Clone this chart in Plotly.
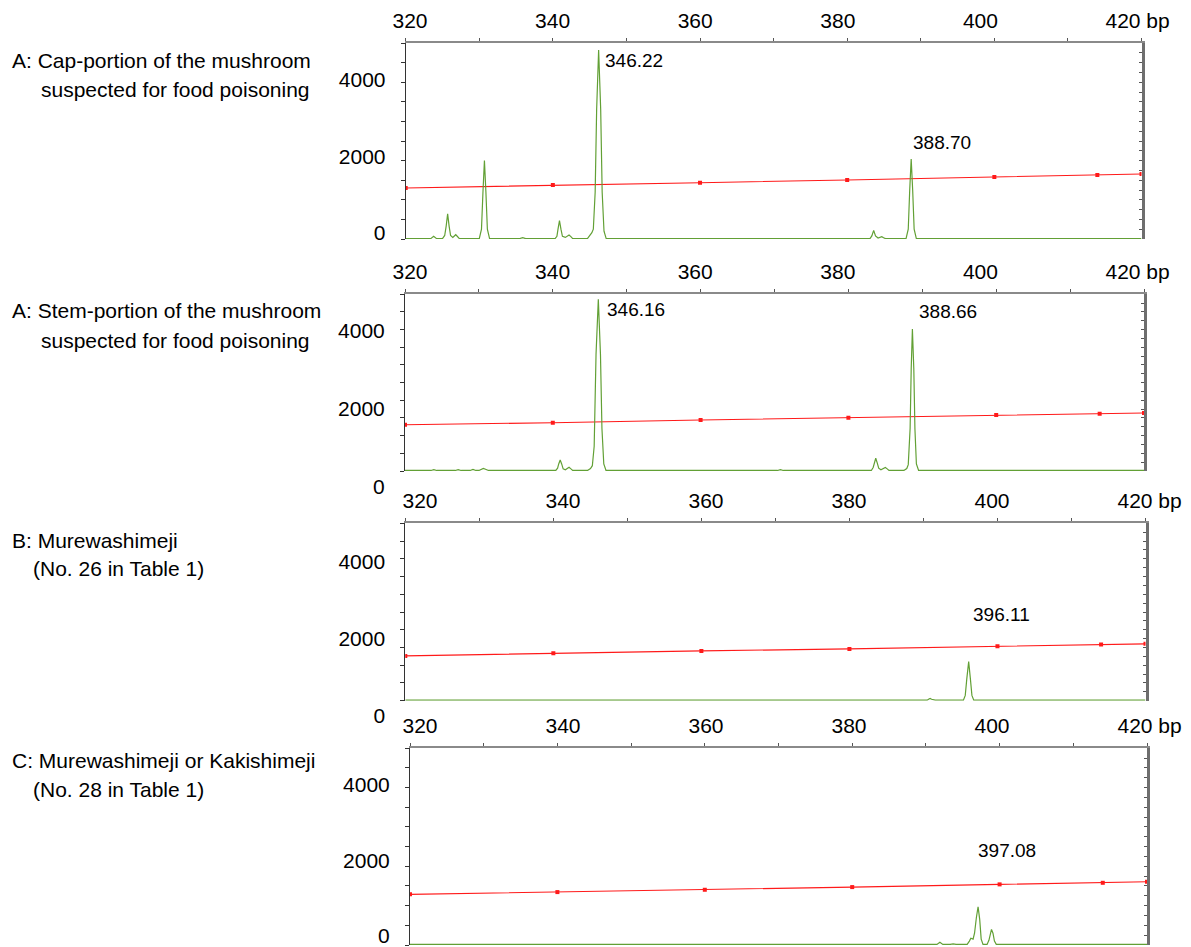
import plotly.graph_objects as go

# page geometry: the html body has an 8px margin, so the figure is placed at (8, 8)
OFF = 8
WF, HF = 1191 - OFF, 947 - OFF

# ---------------- data ----------------
# internal size-standard (red) points
size_std_bp = [320, 340, 360, 380, 400, 414, 420]
cap_std = [1301, 1378, 1436, 1505, 1582, 1633, 1658]
stem_std = [1310, 1366, 1443, 1508, 1584, 1621, 1641]
mur_std = [1263, 1339, 1404, 1460, 1537, 1582, 1602]
kak_std = [1287, 1345, 1404, 1472, 1541, 1581, 1607]

# sample traces (green)
cap_bp = [320, 323.4, 323.8, 324.2,
          325.0, 325.3, 325.5, 325.7, 325.9, 326.1, 326.4, 326.6, 326.8, 327.0, 327.3,
          330.0, 330.3, 330.5, 330.7, 330.9, 331.1, 331.4,
          335.5, 335.9, 336.3,
          340.3, 340.55, 340.7, 340.9, 341.1, 341.3, 341.7, 341.95, 342.2, 342.45, 342.7,
          344.7, 345.1, 345.3, 345.5, 345.75, 345.95, 346.22, 346.5, 346.7, 346.95, 347.25,
          383.1, 383.35, 383.6, 383.85, 384.2, 384.45, 384.7, 384.95, 385.2,
          388.0, 388.3, 388.5, 388.7, 388.9, 389.1, 389.4,
          420]
cap_rfu = [10, 10, 70, 10,
           10, 90, 330, 640, 330, 90, 40, 80, 110, 70, 10,
           10, 250, 1200, 2000, 1200, 250, 10,
           10, 35, 10,
           10, 70, 250, 470, 250, 70, 40, 80, 100, 60, 10,
           10, 120, 160, 250, 1200, 3300, 4820, 3300, 1200, 200, 10,
           10, 80, 220, 80, 25, 50, 60, 30, 10,
           10, 250, 1250, 2040, 1250, 250, 10,
           10]

stem_bp = [320, 323.5, 323.9, 324.3,
           326.8, 327.2, 327.6,
           328.8, 329.2, 329.6,
           330.0, 330.3, 330.6, 330.9, 331.3,
           340.4, 340.65, 340.8, 341.0, 341.2, 341.4, 341.7, 341.95, 342.2, 342.45, 342.7,
           344.7, 345.1, 345.35, 345.6, 345.85, 346.16, 346.45, 346.65, 346.9, 347.2,
           370.4, 370.8, 371.2,
           383.1, 383.35, 383.5, 383.7, 383.9, 384.1, 384.4, 384.7, 385.0, 385.25, 385.5,
           387.5, 387.9, 388.1, 388.35, 388.5, 388.66, 388.85, 389.0, 389.2, 389.5,
           420]
stem_rfu = [15, 15, 40, 15,
            15, 40, 15,
            15, 45, 15,
            15, 50, 75, 50, 15,
            15, 80, 200, 310, 200, 60, 35, 80, 105, 60, 15,
            15, 70, 150, 700, 3300, 4860, 3300, 1200, 200, 15,
            15, 40, 15,
            15, 100, 230, 360, 230, 80, 35, 80, 100, 60, 15,
            15, 70, 180, 1200, 2900, 4020, 2900, 1200, 200, 15,
            15]

mur_bp = [320, 390.5, 390.75, 390.9, 391.1, 391.3, 391.6,
          395.4, 395.65, 395.85, 396.11, 396.35, 396.55, 396.8, 420]
mur_rfu = [15, 15, 50, 65, 40, 25, 15,
           15, 150, 600, 1100, 600, 150, 15, 15]

kak_bp = [320, 391.5, 391.9, 392.3,
          393.3, 393.7, 394.1,
          395.6, 395.9, 396.1, 396.4, 396.6, 396.85, 397.08, 397.3, 397.5, 397.75,
          398.3, 398.55, 398.75, 398.9, 399.1, 399.3, 399.55,
          420]
kak_rfu = [15, 15, 70, 15,
           15, 30, 15,
           15, 100, 170, 150, 300, 700, 972, 650, 150, 15,
           15, 120, 300, 398, 300, 100, 15,
           15]

# called peak sizes and heights of their labels
cap_called = [346.22, 388.70]
cap_label_rfu = [4566, 2474]
stem_called = [346.16, 388.66]
stem_label_rfu = [4583, 4506]
mur_called = [396.11]
mur_label_rfu = [2421]
kak_called = [397.08]
kak_label_rfu = [2411]

x_tick_vals = [320, 340, 360, 380, 400, 420]
x_tick_text = ["320", "340", "360", "380", "400",
               '<span style="color:rgba(0,0,0,0)">\u00a0bp</span>420\u00a0bp']
y_tick_vals = [0, 2000, 4000]

titles = [
    ("A: Cap-portion of the mushroom", "suspected for food poisoning"),
    ("A: Stem-portion of the mushroom", "suspected for food poisoning"),
    ("B: Murewashimeji", "(No. 26 in Table 1)"),
    ("C: Murewashimeji or Kakishimeji", "(No. 28 in Table 1)"),
]

# ---------------- geometry (page pixels) ----------------
geom = [
    dict(x0=405.7, x1=1141.5, top=43, bottom=239, lbot=239, yl0=233, yls=0.03825,
         xlc=410, xls=7.13, t1=(10, 60.7), t2=(39, 90), shifts=[4, 0]),
    dict(x0=405.0, x1=1144.0, top=294.3, bottom=471, lbot=500, yl0=487, yls=0.039,
         xlc=410, xls=7.13, t1=(10, 310.7), t2=(39, 340), shifts=[7, 5]),
    dict(x0=405.3, x1=1145.5, top=523.3, bottom=700.7, lbot=728, yl0=716, yls=0.03858,
         xlc=420, xls=7.15, t1=(10, 540), t2=(31, 568.3), shifts=[2]),
    dict(x0=410.0, x1=1147.0, top=748.3, bottom=945, lbot=945, yl0=935.5, yls=0.03766,
         xlc=420, xls=7.15, t1=(10, 760), t2=(31, 789.3), shifts=[-2]),
]

series = [
    (cap_bp, cap_rfu, cap_std, cap_called, cap_label_rfu),
    (stem_bp, stem_rfu, stem_std, stem_called, stem_label_rfu),
    (mur_bp, mur_rfu, mur_std, mur_called, mur_label_rfu),
    (kak_bp, kak_rfu, kak_std, kak_called, kak_label_rfu),
]

GREEN = "#62a035"
RED = "#ff1a1a"
FONT = "Liberation Sans, Arial, sans-serif"


def fx(px):
    return (px - OFF) / WF


def fy(py):
    return 1 - (py - OFF) / HF


def ref(letter, n):
    return letter if n == 1 else f"{letter}{n}"


def lname(letter, n):
    return f"{letter}axis" if n == 1 else f"{letter}axis{n}"


fig = go.Figure()
layout = {}
annotations = []

for i, (g, (bp, rfu, std, called, lab_rfu)) in enumerate(zip(geom, series)):
    nxd, nxl = 2 * i + 1, 2 * i + 2
    nyd, nyl, nyr = 3 * i + 1, 3 * i + 2, 3 * i + 3
    xd, xl = ref("x", nxd), ref("x", nxl)
    yd, yl, yr = ref("y", nyd), ref("y", nyl), ref("y", nyr)

    xdom = [fx(g["x0"]), fx(g["x1"])]
    ydom = [fy(g["bottom"]), fy(g["top"])]
    ldom = [max(0.0, fy(g["lbot"])), fy(g["top"])]

    fig.add_trace(go.Scatter(x=size_std_bp, y=std, xaxis=xd, yaxis=yd, mode="lines+markers",
                             line=dict(color=RED, width=1.1),
                             marker=dict(color=RED, size=4, symbol="square"),
                             hoverinfo="skip", showlegend=False))
    fig.add_trace(go.Scatter(x=bp, y=rfu, xaxis=xd, yaxis=yd, mode="lines",
                             line=dict(color=GREEN, width=1.2),
                             hoverinfo="skip", showlegend=False))
    fig.add_trace(go.Scatter(x=[None], y=[None], xaxis=xl, yaxis=yl, mode="markers",
                             hoverinfo="skip", showlegend=False))
    fig.add_trace(go.Scatter(x=[None], y=[None], xaxis=xd, yaxis=yr, mode="markers",
                             hoverinfo="skip", showlegend=False))

    # data axes
    layout[lname("x", nxd)] = dict(
        domain=xdom, anchor=yd, side="top", range=[320, 420],
        showline=True, linecolor="#8a8a8a", linewidth=2,
        ticks="outside", ticklen=3, tickwidth=1, tickcolor="#555",
        tickmode="linear", tick0=320, dtick=10, showticklabels=False,
        showgrid=False, zeroline=False, fixedrange=True)
    layout[lname("y", nyd)] = dict(
        domain=ydom, anchor=xd, range=[0, 5000],
        showline=True, linecolor="#333", linewidth=1,
        ticks="outside", ticklen=4, tickwidth=1, tickcolor="#333",
        tickmode="linear", tick0=0, dtick=500, showticklabels=False,
        showgrid=False, zeroline=False, fixedrange=True)
    layout[lname("y", nyr)] = dict(
        domain=ydom, overlaying=yd, anchor=xd, side="right", range=[0, 5000],
        showline=True, linecolor="#6e6e6e", linewidth=3,
        ticks="inside", ticklen=3, tickwidth=1, tickcolor="#555",
        tickmode="linear", tick0=0, dtick=250, showticklabels=False,
        showgrid=False, zeroline=False, fixedrange=True)

    # label axes (separate subplot carrying only the printed tick labels)
    xlr = [320 + (g["x0"] - g["xlc"]) / g["xls"], 320 + (g["x1"] - g["xlc"]) / g["xls"]]
    layout[lname("x", nxl)] = dict(
        domain=xdom, anchor=yl, side="top", range=xlr,
        showline=False, ticks="outside", ticklen=6, tickcolor="rgba(0,0,0,0)",
        tickmode="array", tickvals=x_tick_vals, ticktext=x_tick_text,
        tickfont=dict(size=21, color="black", family=FONT),
        ticklabeloverflow="allow", showgrid=False, zeroline=False, fixedrange=True)
    lbot = min(g["lbot"], 947)
    ylr = [(g["yl0"] - lbot) / g["yls"], (g["yl0"] - g["top"]) / g["yls"]]
    layout[lname("y", nyl)] = dict(
        domain=ldom, anchor=xl, side="left", range=ylr,
        showline=False, ticks="outside", ticklen=15, tickcolor="rgba(0,0,0,0)",
        tickmode="array", tickvals=y_tick_vals,
        tickfont=dict(size=21, color="black", family=FONT),
        ticklabeloverflow="allow", showgrid=False, zeroline=False, fixedrange=True)

    for c, ly, sh in zip(called, lab_rfu, g["shifts"]):
        annotations.append(dict(
            x=c, y=ly, xref=xd, yref=yd, text=f"{c:.2f}", showarrow=False,
            xanchor="left", yanchor="middle", xshift=sh,
            font=dict(size=19, color="black", family=FONT)))

    for (tx, ty), txt in zip([g["t1"], g["t2"]], titles[i]):
        annotations.append(dict(
            x=fx(tx), y=fy(ty), xref="paper", yref="paper", text=txt,
            showarrow=False, xanchor="left", yanchor="middle",
            font=dict(size=21, color="black", family=FONT)))

fig.update_layout(
    width=WF, height=HF, autosize=False,
    margin=dict(l=0, r=0, t=0, b=0),
    template="none",
    paper_bgcolor="white", plot_bgcolor="rgba(0,0,0,0)",
    font=dict(family=FONT, size=21, color="black"),
    showlegend=False,
    annotations=annotations,
    **layout,
)

fig.write_html("out.html", config={"displayModeBar": False, "staticPlot": True})
